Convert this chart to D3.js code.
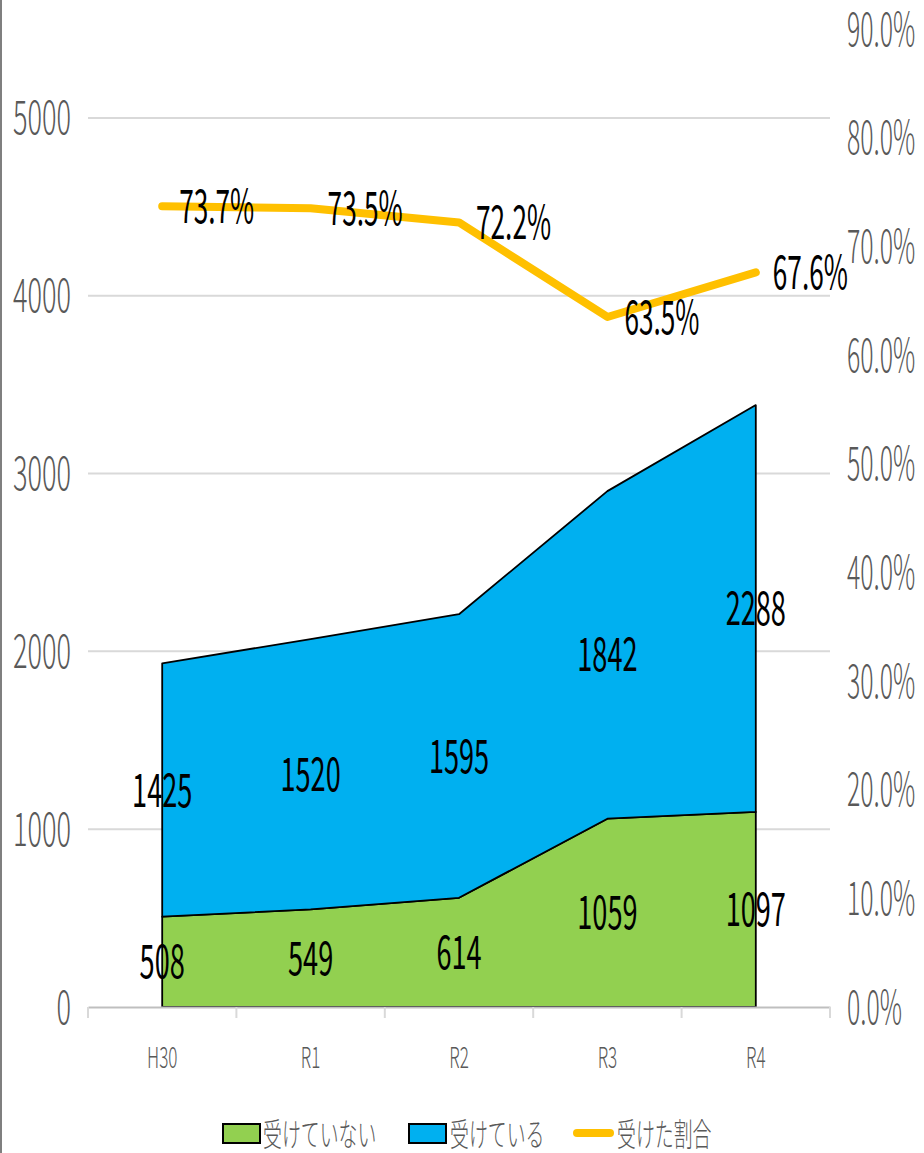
<!DOCTYPE html>
<html>
<head>
<meta charset="utf-8">
<script src="https://cdn.jsdelivr.net/npm/d3@7"></script>
<style>
  body { margin: 0; background: #fff; }
  text { font-family: "Noto Sans CJK JP", "Noto Sans", sans-serif; }
  .axis-label { font-weight: 300; }
</style>
</head>
<body>
<div id="chart"></div>
<script>
const categories = ["H30", "R1", "R2", "R3", "R4"];
const notReceived = [508, 549, 614, 1059, 1097];
const received = [1425, 1520, 1595, 1842, 2288];
const rate = [0.737, 0.735, 0.722, 0.635, 0.676];
const leftTicks = [0, 1000, 2000, 3000, 4000, 5000];
const rightTicks = [0, 0.1, 0.2, 0.3, 0.4, 0.5, 0.6, 0.7, 0.8, 0.9];
const seriesNames = ["受けていない", "受けている", "受けた割合"];

const W = 924, H = 1153;
const sx = 0.59; // condensed look of the original text

const svg = d3.select("#chart").append("svg")
    .attr("width", W).attr("height", H)
    .attr("viewBox", [0, 0, W, H]);

svg.append("rect").attr("width", W).attr("height", H).attr("fill", "#fff");
svg.append("line").attr("x1", 1).attr("x2", 1).attr("y1", 0).attr("y2", H)
    .attr("stroke", "#7f7f7f").attr("stroke-width", 2);

const x = d3.scaleBand().domain(categories).range([88, 830]).padding(0);
const cx = (d) => x(d) + x.bandwidth() / 2;
const y = d3.scaleLinear().domain([0, 5500]).range([1007, 29]);
const y2 = d3.scaleLinear().domain([0, 0.9]).range([1007, 29]);

function label(g, px, py, txt, size, fill, anchor, scale) {
    return g.append("text")
        .attr("transform", `translate(${px},${py}) scale(${scale || sx},1)`)
        .attr("text-anchor", anchor || "middle")
        .attr("dy", "0.36em")
        .attr("font-size", size)
        .attr("fill", fill)
        .text(txt);
}

// gridlines
svg.append("g").selectAll("line")
    .data(leftTicks.slice(1))
    .join("line")
    .attr("x1", 88).attr("x2", 830)
    .attr("y1", (d) => y(d)).attr("y2", (d) => y(d))
    .attr("stroke", "#d9d9d9").attr("stroke-width", 2);

// stacked areas
const rows = categories.map((c, i) => ({ cat: c, a: notReceived[i], b: received[i] }));
const stack = d3.stack().keys(["a", "b"])(rows);
const colors = ["#92d050", "#00b0f0"];
const area = d3.area()
    .x((d) => cx(d.data.cat))
    .y0((d) => y(d[0]))
    .y1((d) => y(d[1]));

svg.append("g").selectAll("path")
    .data(stack)
    .join("path")
    .attr("d", (d) => area(d))
    .attr("fill", (d, i) => colors[i])
    .attr("stroke", "#000")
    .attr("stroke-width", 1.8)
    .attr("stroke-linejoin", "round");

// x axis
const xAxis = svg.append("g")
    .attr("transform", "translate(0,1007)")
    .call(d3.axisBottom(x).tickSize(0).tickFormat(""));
xAxis.select(".domain").attr("stroke", "#bfbfbf").attr("stroke-width", 2);
svg.append("g").selectAll("line")
    .data(categories.concat([null]))
    .join("line")
    .attr("x1", (d) => d ? x(d) : x.range()[1])
    .attr("x2", (d) => d ? x(d) : x.range()[1])
    .attr("y1", 1007).attr("y2", 1018)
    .attr("stroke", "#d9d9d9").attr("stroke-width", 2);

const gl = svg.append("g").attr("class", "axis-label");
categories.forEach((c) => label(gl, cx(c), 1058, c, 29, "#595959"));

// left axis labels
leftTicks.forEach((t) => label(gl, 71, y(t), d3.format("d")(t), 46, "#595959", "end"));
// right axis labels
rightTicks.forEach((t) => label(gl, 847, y2(t), d3.format(".1%")(t), 46, "#595959", "start", 0.54));

// ratio line
const line = d3.line().x((d, i) => cx(categories[i])).y((d) => y2(d));
svg.append("path")
    .datum(rate)
    .attr("d", line)
    .attr("fill", "none")
    .attr("stroke", "#ffc000")
    .attr("stroke-width", 8)
    .attr("stroke-linecap", "round")
    .attr("stroke-linejoin", "round");

// data labels
const dl = svg.append("g");
stack.forEach((s) => {
    s.forEach((d) => {
        label(dl, cx(d.data.cat), y((d[0] + d[1]) / 2), d[1] - d[0], 46, "#000");
    });
});
rate.forEach((r, i) => {
    label(dl, cx(categories[i]) + 17, y2(r), d3.format(".1%")(r), 46, "#000", "start", 0.57);
});

// legend
const lg = svg.append("g").attr("class", "axis-label");
lg.append("rect").attr("x", 223).attr("y", 1124).attr("width", 37).attr("height", 19)
    .attr("fill", colors[0]).attr("stroke", "#000").attr("stroke-width", 2);
label(lg, 263, 1134, seriesNames[0], 32, "#595959", "start");
lg.append("rect").attr("x", 409).attr("y", 1124).attr("width", 37).attr("height", 19)
    .attr("fill", colors[1]).attr("stroke", "#000").attr("stroke-width", 2);
label(lg, 450, 1134, seriesNames[1], 32, "#595959", "start");
lg.append("line").attr("x1", 577).attr("x2", 610).attr("y1", 1133).attr("y2", 1133)
    .attr("stroke", "#ffc000").attr("stroke-width", 8).attr("stroke-linecap", "round");
label(lg, 617, 1134, seriesNames[2], 32, "#595959", "start");
</script>
</body>
</html>
